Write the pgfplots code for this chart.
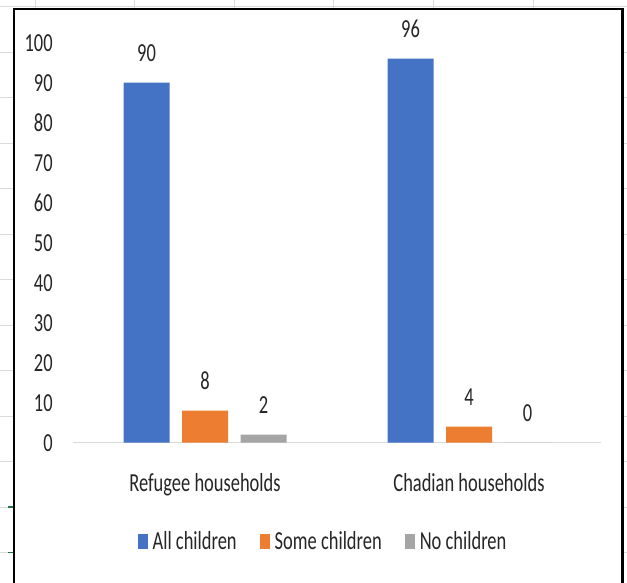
\documentclass[border=0pt]{standalone}
\usepackage{fontspec}
\setmainfont{Carlito}[FakeStretch=0.71]
\usepackage{pgfplots}
\pgfplotsset{compat=1.18}

\definecolor{allc}{HTML}{4472C4}
\definecolor{somec}{HTML}{ED7D31}
\definecolor{noc}{HTML}{A5A5A5}
\definecolor{txt}{HTML}{262626}
\definecolor{axisgrey}{HTML}{D9D9D9}
\definecolor{sheetgrid}{HTML}{DADADA}
\definecolor{selgreen}{HTML}{217346}

\newcommand\cf{\fontsize{26}{31}\selectfont}

\begin{document}
\begin{tikzpicture}
\useasboundingbox (0pt,0pt) rectangle (627pt,582pt);

% worksheet cells behind the chart object
\foreach \gx in {35,134.6,234.2,333.8,433.4,533}
  \draw[sheetgrid, line width=0.8pt] (\gx pt,0pt) -- (\gx pt,582pt);
\foreach \gy in {576,530,484.5,439,393.5,348,302.5,257,211.5,166,120.5,75,29.5}
  \draw[sheetgrid, line width=0.8pt] (0pt,\gy pt) -- (627pt,\gy pt);
\draw[selgreen, line width=1.6pt] (8pt,75pt) -- (13pt,75pt);
\draw[selgreen, line width=1.6pt] (8pt,29.5pt) -- (13pt,29.5pt);

% chart area with its border
\fill[white] (14pt,-5pt) rectangle (622.5pt,573pt);
\draw[black, line width=2.3pt] (14pt,-5pt) -- (14pt,573pt) -- (622.5pt,573pt) -- (622.5pt,-5pt);

\begin{axis}[
  at={(73pt,139.3pt)}, anchor=south west,
  scale only axis, width=528pt, height=400pt,
  xmin=0, xmax=2, ymin=0, ymax=100,
  axis x line=bottom, axis y line=left,
  x axis line style={draw=axisgrey, line width=1.3pt, -},
  y axis line style={draw=none},
  /pgf/number format/assume math mode=true,
  ybar=12.5pt, bar width=46pt,
  xtick={0.5,1.5},
  xticklabels={Refugee households, Chadian households},
  xtick style={draw=none},
  xticklabel style={font=\cf, text=txt, anchor=base, inner sep=0pt, yshift=-44.6pt},
  ytick={0,10,...,100},
  ytick style={draw=none},
  yticklabel style={font=\cf, text=txt, anchor=east, inner sep=0pt, xshift=-18pt},
  nodes near coords,
  every node near coord/.append style={font=\cf, text=txt, inner sep=0pt, yshift=20.8pt},
  legend columns=3,
  legend image code/.code={\path[#1, draw=none] (0pt,-7.5pt) rectangle (10pt,7.5pt);},
  legend style={at={(axis description cs:0.5,0)}, anchor=center,
    xshift=-15pt, yshift=-98.8pt, draw=none, fill=none,
    font=\cf, text=txt, nodes={inner sep=0pt},
    /tikz/every odd column/.append style={column sep=5pt},
    /tikz/every even column/.append style={column sep=23pt}},
]
\addplot[fill=allc, draw=none]
  coordinates {(0.5,90) (1.5,96)};
\addplot[fill=somec, draw=none]
  coordinates {(0.5,8) (1.5,4)};
\addplot[fill=noc, draw=none]
  coordinates {(0.5,2) (1.5,0)};
\legend{All children, Some children, No children}

% category separators below the axis
\draw[axisgrey, line width=1.3pt] (axis cs:0,0) -- ++(0,-9pt);
\draw[axisgrey, line width=1.3pt] (axis cs:1,0) -- ++(0,-9pt);
\draw[axisgrey, line width=1.3pt] (axis cs:2,0) -- ++(0,-9pt);
\end{axis}
\end{tikzpicture}
\end{document}
